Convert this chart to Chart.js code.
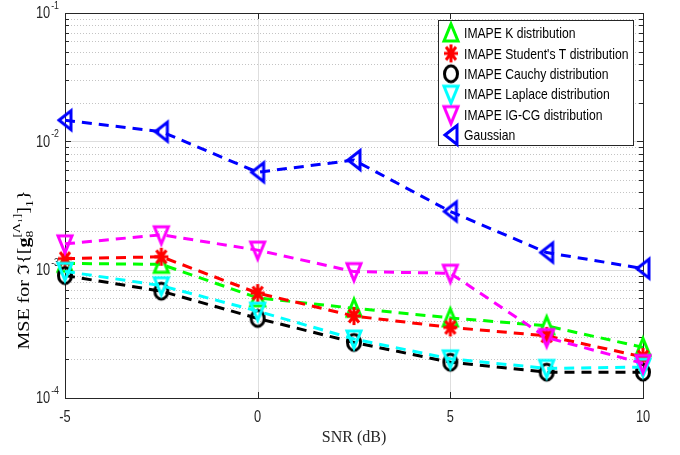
<!DOCTYPE html>
<html>
<head>
<meta charset="utf-8">
<script src="https://cdn.jsdelivr.net/npm/chart.js@4/dist/chart.umd.min.js"></script>
<style>
  html, body { margin: 0; padding: 0; background: #fff; }
  #wrap { width: 680px; height: 455px; position: relative; }
</style>
</head>
<body>
<div id="wrap"><canvas id="mseChart"></canvas></div>
<script>
// SNR points (dB)
const snr = [-5, -2.5, 0, 2.5, 5, 7.5, 10];

const seriesNames = [
    'IMAPE K distribution',
    "IMAPE Student's T distribution",
    'IMAPE Cauchy distribution',
    'IMAPE Laplace distribution',
    'IMAPE IG-CG distribution',
    'Gaussian'
];

// MSE values
const mseK       = [0.00112, 0.00110, 0.000603, 0.000500, 0.000421, 0.000365, 0.000248];
const mseStudent = [0.00122, 0.00126, 0.000657, 0.000435, 0.000355, 0.000305, 0.000209];
const mseCauchy  = [0.00090, 0.00068, 0.000417, 0.000271, 0.000190, 0.000159, 0.000159];
const mseLaplace = [0.00097, 0.00075, 0.000475, 0.000288, 0.000202, 0.000170, 0.000174];
const mseIGCG    = [0.00159, 0.00187, 0.00142, 0.000966, 0.000938, 0.000296, 0.000186];
const mseGauss   = [0.0146, 0.0119, 0.00574, 0.00714, 0.00284, 0.00136, 0.00102];

const xTicks = [-5, 0, 5, 10];
const yDecades = [-4, -3, -2, -1];

const AX_FONT = "'Liberation Sans', Arial, sans-serif";
const SERIF = "'Liberation Serif', 'DejaVu Serif', serif";

// the original figure is squeezed sideways, so text is drawn narrower
function squeezed(ctx, text, x, y, align, sx) {
    ctx.save();
    ctx.translate(x, y);
    ctx.scale(sx, 1);
    ctx.textAlign = align;
    ctx.fillText(text, 0, 0);
    ctx.restore();
}

// hollow markers drawn a bit taller than wide, like the stretched figure
function makeMarker(kind, color) {
    const c = document.createElement('canvas');
    c.width = 24; c.height = 28;
    const g = c.getContext('2d');
    g.strokeStyle = color;
    g.lineWidth = 3;
    g.lineJoin = 'miter';
    g.translate(12, 14);
    g.beginPath();
    if (kind === 'up') {
        g.moveTo(0, -9); g.lineTo(7, 8); g.lineTo(-7, 8); g.closePath();
    } else if (kind === 'down') {
        g.moveTo(0, 9); g.lineTo(7, -8); g.lineTo(-7, -8); g.closePath();
    } else if (kind === 'left') {
        g.moveTo(-6, 0); g.lineTo(6, -9.5); g.lineTo(6, 9.5); g.closePath();
    } else if (kind === 'circle') {
        g.ellipse(0, 0, 6.5, 8, 0, 0, Math.PI * 2);
    } else if (kind === 'star') {
        g.moveTo(-7, 0); g.lineTo(7, 0);
        g.moveTo(0, -9); g.lineTo(0, 9);
        g.moveTo(-5, -6.5); g.lineTo(5, 6.5);
        g.moveTo(-5, 6.5); g.lineTo(5, -6.5);
    }
    g.stroke();
    return c;
}

const colors = ['#00ff00', '#ff0000', '#000000', '#00ffff', '#ff00ff', '#0000ff'];
const kinds = ['up', 'star', 'circle', 'down', 'down', 'left'];
const values = [mseK, mseStudent, mseCauchy, mseLaplace, mseIGCG, mseGauss];
const markers = kinds.map((k, i) => makeMarker(k, colors[i]));

const datasets = values.map((vals, i) => ({
    label: seriesNames[i],
    data: snr.map((x, j) => ({ x: x, y: vals[j] })),
    borderColor: colors[i],
    backgroundColor: colors[i],
    borderWidth: 3,
    borderDash: [10, 7],
    pointStyle: markers[i],
    pointRadius: 10,
    pointHoverRadius: 10,
    fill: false,
    tension: 0,
    clip: false,
    order: values.length - i
}));

// grid, box, inward ticks and tick labels (MATLAB look)
const framePlugin = {
    id: 'frame',
    beforeDatasetsDraw(chart) {
        const { ctx, chartArea: a, scales } = chart;
        const xs = scales.x, ys = scales.y;
        ctx.save();
        ctx.lineWidth = 1;
        // minor y grid
        ctx.strokeStyle = '#c4c4c4';
        ctx.setLineDash([1, 2]);
        yDecades.slice(0, -1).forEach(e => {
            for (let k = 2; k <= 9; k++) {
                const y = Math.round(ys.getPixelForValue(k * Math.pow(10, e))) + 0.5;
                ctx.beginPath(); ctx.moveTo(a.left, y); ctx.lineTo(a.right, y); ctx.stroke();
            }
        });
        ctx.setLineDash([]);
        // major grid
        ctx.strokeStyle = '#dedede';
        yDecades.forEach(e => {
            const y = Math.round(ys.getPixelForValue(Math.pow(10, e))) + 0.5;
            ctx.beginPath(); ctx.moveTo(a.left, y); ctx.lineTo(a.right, y); ctx.stroke();
        });
        xTicks.forEach(v => {
            const x = Math.round(xs.getPixelForValue(v)) + 0.5;
            ctx.beginPath(); ctx.moveTo(x, a.top); ctx.lineTo(x, a.bottom); ctx.stroke();
        });
        // box
        ctx.strokeStyle = '#262626';
        ctx.strokeRect(a.left + 0.5, a.top + 0.5, a.right - a.left, a.bottom - a.top);
        // ticks
        ctx.beginPath();
        xTicks.forEach(v => {
            const x = Math.round(xs.getPixelForValue(v)) + 0.5;
            ctx.moveTo(x, a.bottom); ctx.lineTo(x, a.bottom - 6);
            ctx.moveTo(x, a.top); ctx.lineTo(x, a.top + 6);
        });
        yDecades.forEach(e => {
            for (let k = 1; k <= 9; k++) {
                if (e === -1 && k > 1) break;
                const y = Math.round(ys.getPixelForValue(k * Math.pow(10, e))) + 0.5;
                const len = k === 1 ? 6 : 4;
                ctx.moveTo(a.left, y); ctx.lineTo(a.left + len, y);
                ctx.moveTo(a.right, y); ctx.lineTo(a.right - len, y);
            }
        });
        ctx.stroke();
        // y tick labels 10^e
        ctx.fillStyle = '#262626';
        ctx.textBaseline = 'middle';
        yDecades.forEach(e => {
            const y = ys.getPixelForValue(Math.pow(10, e));
            ctx.font = '11px ' + AX_FONT;
            const ew = ctx.measureText(String(e)).width * 0.8;
            squeezed(ctx, String(e), a.left - 6, y - 7, 'right', 0.8);
            ctx.font = '16px ' + AX_FONT;
            squeezed(ctx, '10', a.left - 7 - ew, y + 1, 'right', 0.8);
        });
        // x tick labels
        ctx.font = '16px ' + AX_FONT;
        xTicks.forEach(v => {
            squeezed(ctx, String(v), xs.getPixelForValue(v), a.bottom + 20, 'center', 0.8);
        });
        ctx.restore();
    },
    afterDraw(chart) {
        const { ctx } = chart;
        ctx.save();
        // legend box
        const bx = 438, by = 20, bw = 195, bh = 125;
        ctx.fillStyle = '#fff';
        ctx.fillRect(bx, by, bw, bh);
        ctx.strokeStyle = '#262626';
        ctx.lineWidth = 1;
        ctx.strokeRect(bx + 0.5, by + 0.5, bw, bh);
        ctx.font = '15px ' + AX_FONT;
        ctx.fillStyle = '#000';
        ctx.textBaseline = 'middle';
        seriesNames.forEach((name, i) => {
            const cy = 33 + i * 20.4;
            ctx.drawImage(markers[i], 451 - markers[i].width / 2, cy - markers[i].height / 2);
            squeezed(ctx, name, 464, cy + 1, 'left', 0.81);
        });

        // y axis title with sub/superscripts, rotated and stretched along its length
        const parts = [
            { t: 'MSE for ', f: '16px ' + SERIF, dy: 0 },
            { t: '\u2111{[', f: '16px ' + SERIF, dy: 0 },
            { t: 'g', f: 'bold 16px ' + SERIF, dy: 0 },
            { t: '8', f: '11px ' + SERIF, dy: 4, sub: true },
            { t: '[\u039B\u2081]', f: '11px ' + SERIF, dy: -9 },
            { t: ']', f: '16px ' + SERIF, dy: 0 },
            { t: '1', f: '11px ' + SERIF, dy: 4 },
            { t: '}', f: '16px ' + SERIF, dy: 0 }
        ];
        let total = 0;
        parts.forEach(p => {
            ctx.font = p.f;
            p.w = ctx.measureText(p.t).width;
            if (!p.sub) total += p.w;
        });
        ctx.translate(29, 270);
        ctx.rotate(-Math.PI / 2);
        ctx.scale(1.25, 1);
        ctx.textAlign = 'left';
        ctx.textBaseline = 'alphabetic';
        ctx.fillStyle = '#000';
        let x = -total / 2, lastX = x;
        parts.forEach(p => {
            ctx.font = p.f;
            if (p.sub) {
                ctx.fillText(p.t, x, p.dy);
                lastX = x;
            } else if (p.dy < 0) {
                ctx.fillText(p.t, lastX, p.dy);
                x = Math.max(x, lastX + p.w);
            } else {
                ctx.fillText(p.t, x, p.dy);
                x += p.w;
            }
        });
        ctx.restore();
    }
};

new Chart(document.getElementById('mseChart'), {
    type: 'line',
    data: { datasets: datasets },
    options: {
        responsive: true,
        maintainAspectRatio: false,
        animation: false,
        events: [],
        layout: { padding: { left: 0, right: 37, top: 8, bottom: 0 } },
        plugins: {
            legend: { display: false },
            tooltip: { enabled: false }
        },
        scales: {
            x: {
                type: 'linear',
                min: -5,
                max: 10,
                afterBuildTicks: s => { s.ticks = xTicks.map(v => ({ value: v })); },
                afterFit: s => { s.height = 57; },
                grid: { display: false, drawTicks: false },
                border: { display: false },
                ticks: { display: false },
                title: {
                    display: true,
                    text: 'SNR (dB)',
                    color: '#262626',
                    padding: { top: 2, bottom: 8 },
                    font: { family: SERIF, size: 16 }
                }
            },
            y: {
                type: 'logarithmic',
                min: 1e-4,
                max: 1e-1,
                afterFit: s => { s.width = 65; },
                grid: { display: false, drawTicks: false },
                border: { display: false },
                ticks: { display: false }
            }
        }
    },
    plugins: [framePlugin]
});
</script>
</body>
</html>
